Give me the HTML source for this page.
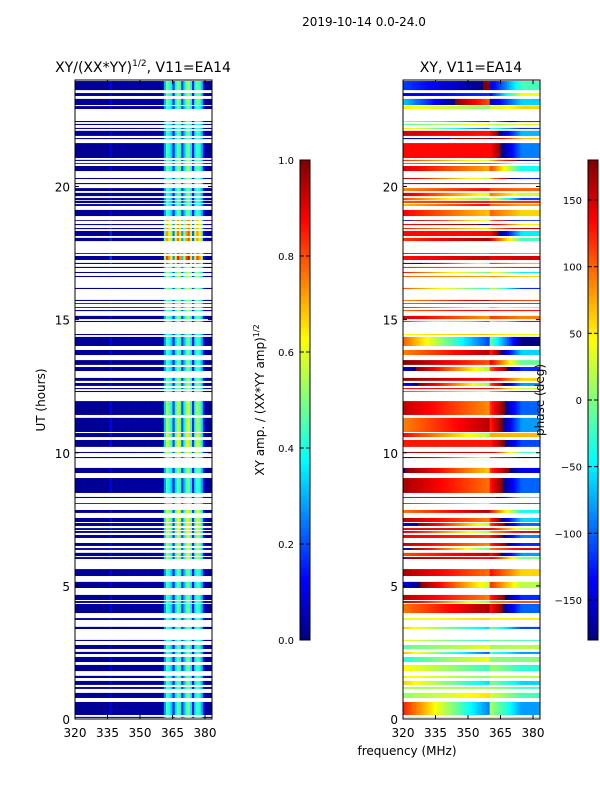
<!DOCTYPE html>
<html><head><meta charset="utf-8">
<style>
html,body{margin:0;padding:0;background:#fff;}
svg{display:block;font-family:"DejaVu Sans","Liberation Sans",sans-serif;}
</style></head>
<body>
<svg id="fig" width="600" height="800" viewBox="0 0 600 800">
<text x="364" y="26" font-size="12" text-anchor="middle">2019-10-14 0.0-24.0</text>
<text x="143" y="72" font-size="14" text-anchor="middle">XY/(XX*YY)<tspan font-size="9" dy="-6">1/2</tspan><tspan dy="6">, V11=EA14</tspan></text>
<text x="471" y="72" font-size="14" text-anchor="middle">XY, V11=EA14</text>
<g id="ampHeat"></g>
<g id="phHeat"></g>
<g id="axes"></g>
<text transform="translate(45,400) rotate(-90)" font-size="12" text-anchor="middle">UT (hours)</text>
<text x="407" y="755" font-size="12" text-anchor="middle">frequency (MHz)</text>
<text transform="translate(264,400) rotate(-90)" font-size="12" text-anchor="middle">XY amp. / (XX*YY amp)<tspan font-size="8" dy="-5">1/2</tspan></text>
<text transform="translate(544,400) rotate(-90)" font-size="12" text-anchor="middle">phase (deg)</text>
<g id="cbars"></g>
</svg>
<script>
// ---- data ----
const validStart = [23.62,23.40,23.06,22.91,22.42,22.31,22.16,21.90,21.78,21.07,20.96,20.85,20.58,20.28,20.09,19.83,19.64,19.49,19.38,19.27,18.89,18.71,18.55,18.40,18.14,17.95,17.47,17.24,17.09,16.94,16.75,16.60,16.15,15.70,15.59,15.44,15.32,15.02,14.91,14.42,14.01,13.67,13.30,13.07,12.70,12.51,12.39,12.28,11.42,10.78,10.59,10.22,9.99,9.80,9.24,8.49,8.30,8.08,7.74,7.40,7.25,7.10,6.99,6.80,6.50,6.35,6.12,6.01,5.37,4.92,4.47,4.36,3.98,3.72,3.38,2.93,2.63,2.44,2.14,1.80,1.54,1.28,1.13,0.79,0.15,0.04];
const validEnd   = [23.96,23.51,23.29,23.02,22.46,22.35,22.20,22.09,21.82,21.63,21.00,20.88,20.77,20.32,20.13,19.94,19.76,19.57,19.46,19.34,19.12,18.74,18.59,18.44,18.33,18.07,17.50,17.39,17.13,16.98,16.79,16.64,16.19,15.74,15.62,15.47,15.36,15.14,14.95,14.46,14.35,13.86,13.48,13.22,12.81,12.62,12.43,12.32,11.94,11.31,10.74,10.48,10.03,9.84,9.43,9.05,8.34,8.11,7.85,7.55,7.36,7.17,7.06,6.91,6.61,6.42,6.24,6.08,5.63,5.15,4.66,4.43,4.32,3.79,3.46,2.97,2.78,2.52,2.33,2.03,1.62,1.43,1.20,0.98,0.64,0.08];
// amplitude per 1-MHz channel, 320..383 MHz
const channelFreq = [];
for (let f = 320; f <= 383; f++) channelFreq.push(f);
const ampChannel = [0.02,0.02,0.02,0.02,0.02,0.02,0.02,0.02,0.02,0.02,0.02,0.02,0.02,0.02,0.02,0.02,0.10,0.02,0.02,0.03,
 0.03,0.03,0.03,0.03,0.03,0.03,0.03,0.03,0.03,0.03,0.03,0.03,0.03,0.03,0.03,0.03,0.03,0.03,0.03,0.03,
 0.03,0.28,0.45,0.40,0.33,0.15,0.36,0.48,0.40,0.18,0.32,0.45,0.50,0.36,0.14,0.36,0.45,0.40,0.30,0.08,
 0.02,0.02,0.02,0.02];
// band gain by hour (0..23)
const ampHourGain = [1.0,1.0,1.0,1.0,1.0,1.0,1.2,1.3,1.0,1.1,1.3,1.2,1.1,1.0,1.0,1.1,1.2,1.8,1.6,1.0,1.1,1.0,1.0,1.1];
// phase (deg): low-frequency side (<363 MHz) and high side, by hour
const phaseLowHour  = [20,10,0,30,125,130,120,125,130,130,125,120,115,120,40,115,80,125,130,100,110,130,-10,-150];
const phaseHighHour = [-60,-30,-20,-10,-120,60,-120,-60,-100,-110,-120,-100,-60,-80,-20,90,30,90,-60,60,-40,-100,-60,-20];
// per-row phase offsets (deg), one per valid interval
const phaseRowOffset = [0,60,-40,120,-150,90,-60,30,170,10,-120,60,0,-80,150,40,-30,-170,60,20,
 0,-60,110,-140,10,40,0,60,-20,100,-80,30,-150,20,60,-100,40,0,-90,60,
 -160,20,70,-40,120,-20,80,-140,0,20,-170,10,100,-60,-30,0,60,-120,20,0,
 -40,80,-150,30,0,-90,40,120,0,-40,0,-130,20,60,-100,0,40,-60,20,0,
 50,-30,10,40,-20,60];
const ampTicks = [0.0,0.2,0.4,0.6,0.8,1.0];
const phaseTicks = [-150,-100,-50,0,50,100,150];
const xTicks = [320,335,350,365,380];
const yTicks = [0,5,10,15,20];

// ---- scales ----
const Y0 = 719, Y1 = 80;
const yS = h => Y0 - (h/24)*(Y0-Y1);
const panels = [{x0:75},{x0:403}];
const pxPerMHz = (205-75)/60;
const xS = (p,f) => panels[p].x0 + (f-320)*pxPerMHz;
const PW = 137;

function jet(v){
  v = Math.max(0,Math.min(1,v));
  const c = t => Math.round(255*Math.max(0,Math.min(1,1.5-Math.abs(4*v-t))));
  return `rgb(${c(3)},${c(2)},${c(1)})`;
}
const NS = 'http://www.w3.org/2000/svg';
function mk(tag, attrs, parent){
  const e = document.createElementNS(NS, tag);
  for (const k in attrs) e.setAttribute(k, attrs[k]);
  parent.appendChild(e); return e;
}
function hourVal(arr, h){
  const i = Math.min(23, Math.floor(h));
  return arr[i];
}
const wrap = p => ((p+180)%360+360)%360-180;

const ampG = document.getElementById('ampHeat');
const phG = document.getElementById('phHeat');
for (let r = 0; r < validStart.length; r++){
  const h = (validStart[r]+validEnd[r])/2;
  const yt = yS(validEnd[r]), yb = yS(validStart[r]);
  const gain = ampHourGain[Math.min(23,Math.floor(h))];
  const off = phaseRowOffset[r] || 0;
  const pl = hourVal(phaseLowHour, h) + off*0.3;
  const phh = hourVal(phaseHighHour, h) + off;
  for (let c = 0; c < channelFreq.length; c++){
    const f = channelFreq[c];
    const xa = xS(0,f), xb = Math.min(xS(0,f+1), 75+PW);
    if (xb <= xa) continue;
    let a = ampChannel[c]; if (a > 0.06) a = Math.min(1, a*gain);
    const ra = mk('rect',{x:xa.toFixed(2),y:yt.toFixed(2),width:(xb-xa+0.3).toFixed(2),height:(yb-yt).toFixed(2),fill:jet(a)},ampG);
    
    
    let ph;
    if (f < 360) ph = pl + (f-340)*((off%7)-3)*0.6;
    else { const t = (f-360)/23; ph = pl + wrap(phh-pl)*Math.min(1,t*1.6); }
    ph = wrap(ph);
    const xp = xS(1,f), xq = Math.min(xS(1,f+1), 403+PW);
    const rp = mk('rect',{x:xp.toFixed(2),y:yt.toFixed(2),width:(xq-xp+0.3).toFixed(2),height:(yb-yt).toFixed(2),fill:jet((ph+180)/360)},phG);
    
    
  }
}

// ---- axes ----
const ax = document.getElementById('axes');
panels.forEach((p,pi)=>{
  const fr = mk('rect',{x:p.x0,y:Y1,width:PW,height:Y0-Y1,fill:'none',stroke:'#000','stroke-width':1},ax);
  
  
  yTicks.forEach(t=>{
    const y = yS(t);
    mk('line',{x1:p.x0,x2:p.x0+4,y1:y,y2:y,stroke:'#000'},ax);
    mk('line',{x1:p.x0+PW-4,x2:p.x0+PW,y1:y,y2:y,stroke:'#000'},ax);
    const tx = mk('text',{x:p.x0-5,y:y+5,'font-size':12,'text-anchor':'end'},ax);
    tx.textContent = t;
    
    
  });
  xTicks.forEach(t=>{
    const x = xS(pi,t);
    mk('line',{x1:x,x2:x,y1:Y0,y2:Y0-4,stroke:'#000'},ax);
    mk('line',{x1:x,x2:x,y1:Y1,y2:Y1+4,stroke:'#000'},ax);
    const tx = mk('text',{x:x,y:Y0+18,'font-size':12,'text-anchor':'middle'},ax);
    tx.textContent = t;
    
    
  });
});

// ---- colorbars ----
const cb = document.getElementById('cbars');
const CT = 160, CB = 640;
function colorbar(x0, ticks, lo, hi, name){
  const n = 120;
  for (let i = 0; i < n; i++){
    const y = CB - (i+1)*(CB-CT)/n;
    mk('rect',{x:x0,y:y.toFixed(2),width:10,height:((CB-CT)/n+0.4).toFixed(2),fill:jet((i+0.5)/n)},cb);
  }
  const fr = mk('rect',{x:x0,y:CT,width:10,height:CB-CT,fill:'none',stroke:'#000'},cb);
  
  
  ticks.forEach(t=>{
    const y = CB - (t-lo)/(hi-lo)*(CB-CT);
    mk('line',{x1:x0,x2:x0+4,y1:y,y2:y,stroke:'#000'},cb);
    mk('line',{x1:x0+6,x2:x0+10,y1:y,y2:y,stroke:'#000'},cb);
    const tx = mk('text',{x:x0-6,y:y+4,'font-size':10,'text-anchor':'end'},cb);
    tx.textContent = (lo===0) ? t.toFixed(1) : String(t).replace('-','\u2212');
    
    
  });
}
colorbar(300, ampTicks, 0, 1, 'amp-colorbar');
colorbar(588, phaseTicks, -180, 180, 'phase-colorbar');
</script>
</body></html>
